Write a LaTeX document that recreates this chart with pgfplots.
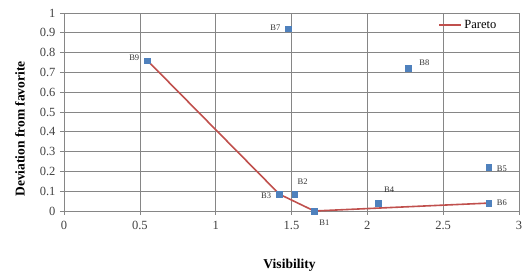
\documentclass[border=0pt]{standalone}
\usepackage{pgfplots}
\pgfplotsset{compat=1.18}
\usepackage{fontspec}
\setmainfont{Liberation Serif}
\definecolor{exred}{RGB}{192,80,77}
\definecolor{exblue}{RGB}{79,129,189}
\definecolor{gridc}{RGB}{134,134,134}
\begin{document}
\begin{tikzpicture}
\path[use as bounding box] (-64pt,-64pt) rectangle (463pt,211pt);
\begin{axis}[
  scale only axis, width=455pt, height=198pt,
  at={(0,0)}, anchor=south west,
  xmin=0, xmax=3, ymin=0, ymax=1,
  xtick={0,0.5,...,3}, ytick={0,0.1,...,1},
  yticklabels={0,0.1,0.2,0.3,0.4,0.5,0.6,0.7,0.8,0.9,1},
  xticklabels={0,0.5,1,1.5,2,2.5,3},
  grid=major, grid style={gridc, line width=0.6pt},
  axis line style={gridc, line width=0.6pt},
  tick style={gridc, line width=0.6pt},
  tick align=outside, major tick length=4pt,
  xtick pos=bottom, ytick pos=left,
  tick label style={font=\fontsize{12.5}{14}\selectfont, text=black!75},
  xticklabel style={yshift=-3pt},
  yticklabel style={xshift=-1pt},
  /pgf/number format/assume math mode=true,
  xlabel={\textbf{Visibility}}, ylabel={\textbf{Deviation from favorite}},
  label style={font=\fontsize{13.5}{15}\selectfont},
  xlabel style={at={(axis description cs:0.5,0)}, anchor=center, yshift=-54pt, xshift=-2pt},
  ylabel style={at={(axis description cs:0,0.5)}, anchor=center, rotate=0, yshift=44pt, xshift=-17pt},
  legend style={draw=none, fill=none, at={(0.955,0.985)}, anchor=north east, font=\fontsize{12.5}{14}\selectfont, inner xsep=0pt},
  legend cell align=left,
  legend image code/.code={\draw[#1, line width=1.8pt] (0pt,0pt) -- (22pt,0pt);},
  clip=false,
]
\addplot[only marks, mark=square*, mark size=2.8pt, color=exblue, forget plot,
  nodes near coords, point meta=explicit symbolic,
  nodes near coords style={font=\fontsize{8.5}{9}\selectfont, text=black!80, anchor=\anch, inner sep=0pt, xshift=\dx pt, yshift=\dy pt},
  visualization depends on={value \thisrow{anchor} \as \anch},
  visualization depends on={\thisrow{dx} \as \dx},
  visualization depends on={\thisrow{dy} \as \dy}]
table[meta=label]{
x y label anchor dx dy
1.65 0.00 B1 west 5 -12
1.52 0.085 B2 west 3 12
1.42 0.085 B3 east -8 -2
2.07 0.04 B4 west 6 13
2.80 0.22 B5 west 8 -1
2.80 0.04 B6 west 8 0
1.48 0.92 B7 east -8 1
2.27 0.72 B8 west 11 6
0.55 0.76 B9 east -8 3
};
\addplot[exred, line width=1.6pt] coordinates {(0.55,0.76) (1.42,0.085) (1.65,0.00) (2.80,0.04)};
\addlegendentry{Pareto}
\end{axis}
\end{tikzpicture}
\end{document}
